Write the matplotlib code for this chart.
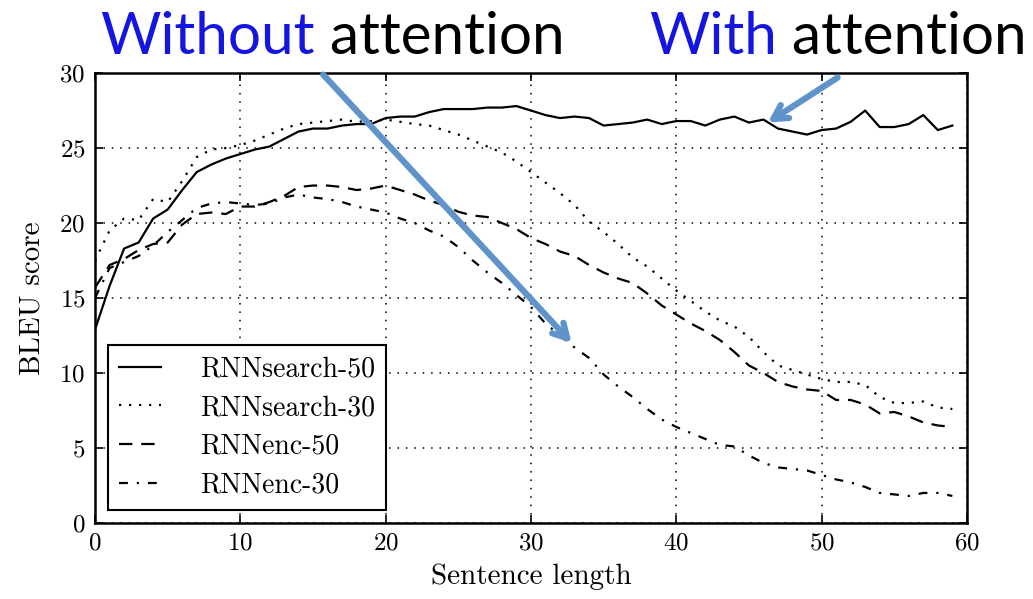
import matplotlib
matplotlib.use("Agg")
import matplotlib.pyplot as plt
import numpy as np

plt.rcParams['font.family'] = ['cmr10', 'DejaVu Serif']
plt.rcParams['axes.formatter.use_mathtext'] = True

# sentence length (x) and BLEU per model
lengths = np.arange(0, 60)

search50 = [12.9, 15.8, 18.3, 18.7, 20.3, 20.9, 22.2, 23.4, 23.9, 24.3,
            24.6, 24.9, 25.1, 25.6, 26.1, 26.3, 26.3, 26.5, 26.6, 26.6,
            27.0, 27.1, 27.1, 27.4, 27.6, 27.6, 27.6, 27.7, 27.7, 27.8,
            27.5, 27.2, 27.0, 27.1, 27.0, 26.5, 26.6, 26.7, 26.9, 26.6,
            26.8, 26.8, 26.5, 26.9, 27.1, 26.7, 26.9, 26.3, 26.1, 25.9,
            26.2, 26.3, 26.75, 27.5, 26.4, 26.4, 26.6, 27.2, 26.2, 26.5]

search30 = [17.5, 19.5, 20.3, 20.2, 21.6, 21.4, 22.8, 24.4, 24.9, 25.0,
            25.2, 25.5, 25.9, 26.3, 26.6, 26.7, 26.8, 26.9, 26.75, 26.8,
            26.9, 26.75, 26.6, 26.5, 26.2, 25.9, 25.5, 25.1, 24.7, 24.1,
            23.4, 22.7, 22.0, 21.2, 20.1, 19.4, 18.6, 17.7, 17.1, 16.3,
            15.5, 14.8, 14.1, 13.5, 13.1, 12.4, 11.4, 10.5, 10.2, 9.9,
            9.6, 9.4, 9.4, 9.2, 8.4, 8.0, 8.0, 8.1, 7.7, 7.6]

enc50 = [15.7, 17.2, 17.6, 18.2, 18.6, 18.7, 19.9, 20.6, 20.7, 20.6,
         21.1, 21.1, 21.4, 21.8, 22.4, 22.5, 22.5, 22.4, 22.2, 22.3,
         22.5, 22.2, 21.9, 21.5, 21.2, 20.75, 20.5, 20.4, 20.0, 19.6,
         19.0, 18.6, 18.1, 17.8, 17.2, 16.7, 16.3, 16.0, 15.3, 14.5,
         13.9, 13.3, 12.8, 12.2, 11.4, 10.5, 10.0, 9.4, 9.1, 8.9,
         8.8, 8.2, 8.2, 7.9, 7.3, 7.4, 7.1, 6.7, 6.5, 6.4]

enc30 = [15.0, 17.0, 17.4, 17.8, 18.5, 19.4, 20.2, 21.0, 21.3, 21.4,
         21.3, 21.2, 21.3, 21.7, 21.9, 21.7, 21.6, 21.4, 21.1, 20.9,
         20.7, 20.3, 20.0, 19.5, 19.1, 18.4, 17.5, 16.7, 16.0, 15.2,
         14.4, 13.3, 12.5, 11.7, 11.0, 9.9, 9.1, 8.4, 7.6, 6.9,
         6.4, 6.0, 5.6, 5.2, 5.1, 4.5, 4.0, 3.7, 3.6, 3.5,
         3.2, 2.9, 2.7, 2.4, 2.0, 1.9, 1.8, 2.0, 2.0, 1.8]

labels = ['RNNsearch-50', 'RNNsearch-30', 'RNNenc-50', 'RNNenc-30']
x_ticks = [0, 10, 20, 30, 40, 50, 60]
y_ticks = [0, 5, 10, 15, 20, 25, 30]

fig = plt.figure(figsize=(10.33, 5.99), dpi=100)
ax = fig.add_axes([0.092, 0.127, 0.844, 0.751])

ax.plot(lengths, search50, color='black', lw=1.6, ls='-', label=labels[0])
ax.plot(lengths, search30, color='black', lw=1.6, ls=(0, (1, 3.5)), label=labels[1])
ax.plot(lengths, enc50, color='black', lw=1.6, ls=(0, (6, 4)), label=labels[2])
ax.plot(lengths, enc30, color='black', lw=1.6, ls=(0, (4, 4, 1, 4)), label=labels[3])

ax.set_xlim(0, 60)
ax.set_ylim(0, 30)
ax.set_xticks(x_ticks)
ax.set_yticks(y_ticks)
ax.tick_params(direction='in', length=6, width=1.2, top=True, right=True,
               labelsize=18, pad=7)
ax.grid(True, color='black', ls=(0, (1, 4.5)), lw=1.1)
for s in ax.spines.values():
    s.set_linewidth(1.8)
ax.set_xlabel('Sentence length', fontsize=21, labelpad=6)
ax.set_ylabel('BLEU score', fontsize=21, labelpad=10)

leg = ax.legend(loc='lower left', bbox_to_anchor=(0.015, 0.029), fontsize=20,
                handlelength=1.5, handletextpad=1.4, labelspacing=0.45,
                borderpad=0.4, borderaxespad=0, fancybox=False, framealpha=1,
                edgecolor='black')
leg.get_frame().set_linewidth(1.5)

# slide annotations
blue = '#1515e0'
arrow_col = '#5f93c9'
title_kw = dict(fontsize=42, family=['Lato', 'DejaVu Sans'], va='baseline')
t1 = fig.text(0.097, 0.91, 'Without', color=blue, **title_kw)
t2 = fig.text(0.628, 0.91, 'With', color=blue, **title_kw)

fig.canvas.draw()
r = fig.canvas.get_renderer()
inv = fig.transFigure.inverted()
for txt in [t1, t2]:
    bb = txt.get_window_extent(r)
    x0 = inv.transform((bb.x1, bb.y0))[0]
    fig.text(x0, 0.91, ' attention', color='black', **title_kw)

arrow_kw = dict(arrowstyle='->, head_length=1.0, head_width=0.55',
                color=arrow_col, lw=4.5, shrinkA=0, shrinkB=0)
ax.annotate('', xy=(32.8, 12.0), xytext=(15.7, 29.9), annotation_clip=False,
            arrowprops=arrow_kw)
ax.annotate('', xy=(46.3, 26.7), xytext=(51.1, 29.7), annotation_clip=False,
            arrowprops=arrow_kw)

fig.savefig('out.png', dpi=100)
